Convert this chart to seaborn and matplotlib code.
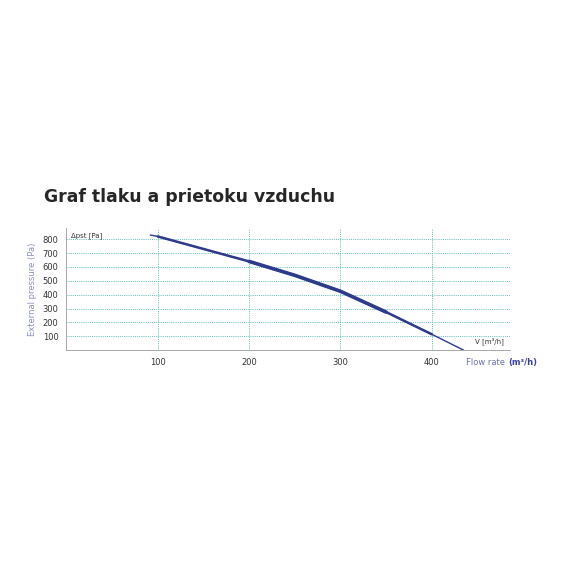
import matplotlib
matplotlib.use("Agg")
import matplotlib.pyplot as plt
import seaborn as sns
import pandas as pd

flow = [92, 100, 150, 200, 250, 300, 350, 400, 435]
pressure = [830, 820, 730, 640, 540, 425, 275, 115, 0]
xticks = [100, 200, 300, 400]
yticks = [100, 200, 300, 400, 500, 600, 700, 800]

df = pd.DataFrame({"flow": flow, "pressure": pressure})
sns.set_style("white")
fig = plt.figure(figsize=(5.76, 5.76), dpi=100)
ax = fig.add_axes([0.115, 0.392, 0.771, 0.212])
sns.lineplot(data=df, x="flow", y="pressure", ax=ax, color="#2e3a8c", lw=1.0)
sns.lineplot(data=df.iloc[1:8], x="flow", y="pressure", ax=ax, color="#2e3a8c", lw=1.8)
sns.lineplot(data=df.iloc[3:7], x="flow", y="pressure", ax=ax, color="#2e3a8c", lw=2.6)
ax.set_xlim(0, 486)
ax.set_ylim(0, 880)
ax.set_xticks(xticks)
ax.set_yticks(yticks)
ax.tick_params(labelsize=6, colors="#333333", length=2)
for s in ["top", "right"]:
    ax.spines[s].set_visible(False)
for s in ["left", "bottom"]:
    ax.spines[s].set_color("#999999")
    ax.spines[s].set_linewidth(0.6)
ax.grid(True, color="#5fbfb6", ls=(0, (1, 1.2)), lw=0.7)
ax.set_xlabel("")
ax.set_ylabel("External pressure (Pa)", fontsize=6, color="#8a8fc0")
ax.text(0.01, 0.97, "Δpst [Pa]", transform=ax.transAxes, fontsize=5, va="top", color="#333333")
ax.text(0.985, 0.06, "V [m³/h]", transform=ax.transAxes, fontsize=5, ha="right", color="#333333")
ax.text(0.995, -0.1, "Flow rate ", transform=ax.transAxes, fontsize=6, ha="right", va="center", color="#6a70b0")
ax.text(0.995, -0.1, "(m³/h)", transform=ax.transAxes, fontsize=6, ha="left", va="center", color="#3a3f9a", fontweight="bold")
fig.text(0.076, 0.658, "Graf tlaku a prietoku vzduchu", fontsize=12.4, fontweight="bold", va="center")
fig.savefig("out.png", dpi=100)
